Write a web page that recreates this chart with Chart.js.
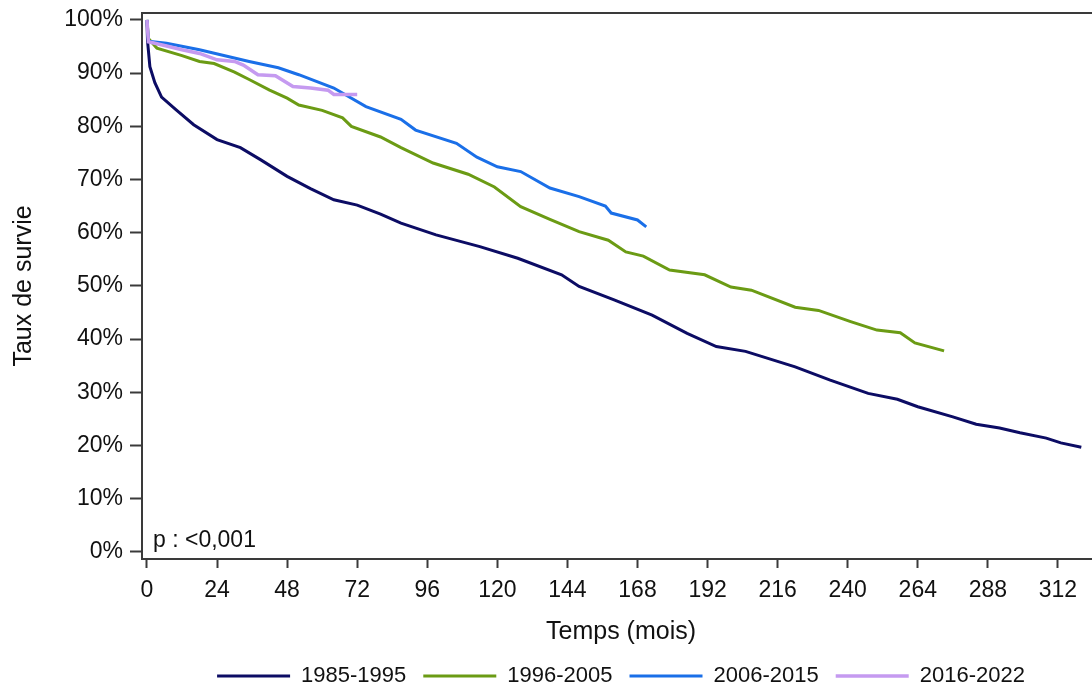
<!DOCTYPE html>
<html>
<head>
<meta charset="utf-8">
<script src="https://cdn.jsdelivr.net/npm/chart.js@4.4.1/dist/chart.umd.min.js"></script>
<style>
  html, body { margin: 0; padding: 0; background: #fff; overflow: hidden; }
  canvas { display: block; }
</style>
</head>
<body>
<canvas id="survieChart" width="1100" height="689"></canvas>
<script>
// courbes de survie par période
const periodes = ['1985-1995', '1996-2005', '2006-2015', '2016-2022'];
const couleurs = ['#0c0c64', '#6b9b14', '#1a6fe8', '#c59af0'];

const mois8595 = [0, 0.2, 1, 2.7, 5, 10, 16, 24, 32, 39, 48, 56, 64, 72, 80, 87, 99, 114, 127, 142, 148, 160, 173, 185, 195, 205, 222, 234, 247, 257, 264, 276, 284, 292, 299, 308, 313, 320];
const surv8595 = [100, 96, 91.2, 88.2, 85.5, 83.1, 80.3, 77.5, 76.0, 73.7, 70.6, 68.3, 66.2, 65.2, 63.5, 61.8, 59.6, 57.4, 55.2, 52.1, 49.9, 47.4, 44.5, 41.1, 38.6, 37.7, 34.8, 32.3, 29.8, 28.7, 27.3, 25.4, 24.0, 23.3, 22.4, 21.4, 20.5, 19.7];

const mois9605 = [0, 0.5, 3.4, 12, 18, 23, 30, 35, 42, 48, 52, 60, 67, 70, 80, 87, 98, 110, 119, 128, 138, 148, 158, 164, 170, 179, 191, 200, 207, 222, 230, 241, 250, 258, 263, 273];
const surv9605 = [100, 96.5, 94.7, 93.3, 92.2, 91.8, 90.2, 88.8, 86.8, 85.3, 84.0, 83.0, 81.6, 80.0, 78.0, 76.0, 73.1, 71.0, 68.6, 64.9, 62.5, 60.2, 58.6, 56.4, 55.6, 53.0, 52.1, 49.8, 49.2, 46.0, 45.4, 43.3, 41.7, 41.2, 39.3, 37.8];

const mois0615 = [0, 0.5, 6.7, 18, 35, 45, 52, 64, 75, 87, 92, 106, 113, 120, 128, 138, 148, 157, 159, 168, 171];
const surv0615 = [100, 96, 95.6, 94.4, 92.2, 91.0, 89.7, 87.2, 83.7, 81.3, 79.3, 76.8, 74.2, 72.4, 71.5, 68.4, 66.8, 65.0, 63.7, 62.4, 61.1];

const mois1622 = [0, 0.5, 6, 12, 18, 24, 30, 33, 38, 44, 50, 56, 62, 64, 72];
const surv1622 = [100, 95.9, 95.2, 94.4, 93.7, 92.5, 92.2, 91.5, 89.7, 89.5, 87.5, 87.2, 86.8, 86.0, 86.0];

const xTicks = [0, 24, 48, 72, 96, 120, 144, 168, 192, 216, 240, 264, 288, 312];
const yTicks = [0, 10, 20, 30, 40, 50, 60, 70, 80, 90, 100];
const pValeur = 'p : <0,001';

const police = '"Liberation Sans", Arial, sans-serif';
const encre = '#111111';
const cadre = '#3a3a3a';

function points(mois, surv) {
    return mois.map((m, i) => ({ x: m, y: surv[i] }));
}

const series = [
    points(mois8595, surv8595),
    points(mois9605, surv9605),
    points(mois0615, surv0615),
    points(mois1622, surv1622)
];

// cadre du haut + texte p
const decorPlugin = {
    id: 'decor',
    afterDraw(chart) {
        const { ctx, chartArea } = chart;
        ctx.save();
        ctx.strokeStyle = cadre;
        ctx.lineWidth = 2;
        ctx.beginPath();
        ctx.moveTo(chartArea.left - 1, chartArea.top);
        ctx.lineTo(chart.width, chartArea.top);
        ctx.stroke();
        ctx.fillStyle = encre;
        ctx.font = '23px ' + police;
        ctx.textBaseline = 'alphabetic';
        ctx.textAlign = 'left';
        ctx.fillText(pValeur, chartArea.left + 11, 547);
        ctx.restore();
    }
};

new Chart(document.getElementById('survieChart').getContext('2d'), {
    type: 'line',
    data: {
        datasets: periodes.map((p, i) => ({
            label: p,
            data: series[i],
            borderColor: couleurs[i],
            backgroundColor: couleurs[i],
            borderWidth: i === 3 ? 3.5 : 3,
            pointRadius: 0,
            tension: 0,
            fill: false,
            order: 4 - i
        }))
    },
    options: {
        responsive: false,
        animation: false,
        layout: { padding: { left: 0, right: 0, top: 13, bottom: -8 } },
        plugins: {
            tooltip: { enabled: false },
            legend: {
                position: 'bottom',
                fullSize: false,
                labels: {
                    usePointStyle: true,
                    pointStyle: 'line',
                    pointStyleWidth: 73,
                    padding: 17,
                    color: encre,
                    font: { family: police, size: 22 },
                    sort: (a, b) => a.datasetIndex - b.datasetIndex
                }
            }
        },
        scales: {
            x: {
                type: 'linear',
                min: -1.7,
                max: 326.4,
                afterBuildTicks: (scale) => { scale.ticks = xTicks.map(v => ({ value: v })); },
                afterFit: (scale) => { scale.height = 89; scale.paddingLeft = 0; scale.paddingRight = 0; },
                grid: { drawOnChartArea: false, tickLength: 9, tickColor: cadre, tickWidth: 2 },
                border: { color: cadre, width: 2 },
                ticks: { color: encre, font: { family: police, size: 23 }, padding: 9, maxRotation: 0, autoSkip: false },
                title: { display: true, text: 'Temps (mois)', color: encre, font: { family: police, size: 25 }, padding: { top: 0, bottom: 1 } }
            },
            y: {
                type: 'linear',
                min: -1.32,
                max: 101.3,
                afterBuildTicks: (scale) => { scale.ticks = yTicks.map(v => ({ value: v })); },
                afterFit: (scale) => { scale.width = 142; scale.paddingTop = 0; scale.paddingBottom = 0; },
                grid: { drawOnChartArea: false, tickLength: 12, tickColor: cadre, tickWidth: 2 },
                border: { color: cadre, width: 2 },
                ticks: { color: encre, font: { family: police, size: 23 }, padding: 7, callback: (v) => v + '%' },
                title: { display: true, text: 'Taux de survie', color: encre, font: { family: police, size: 25 }, padding: { top: 9, bottom: 0 } }
            }
        }
    },
    plugins: [decorPlugin]
});
</script>
</body>
</html>
